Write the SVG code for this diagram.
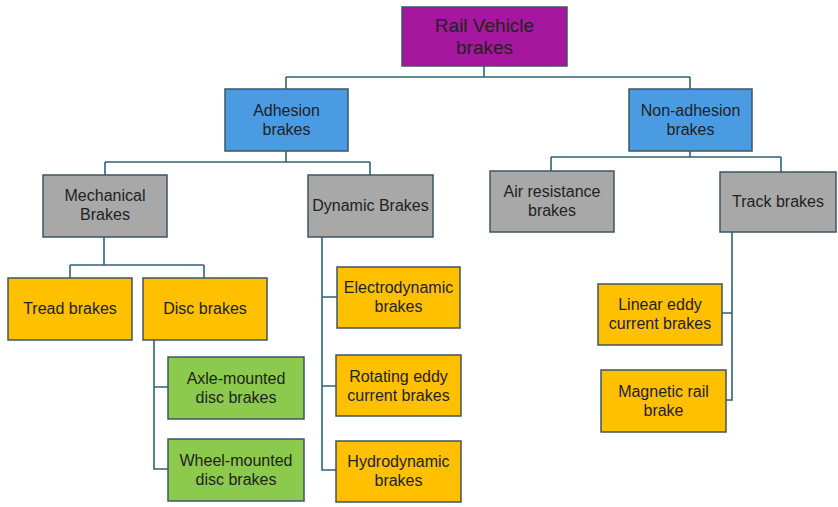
<svg xmlns="http://www.w3.org/2000/svg" width="838" height="507" viewBox="0 0 838 507">
<style>
rect.n{stroke:#3d5566;stroke-width:1.5}
.p{fill:#a5179f}
.b{fill:#4a9be2}
.g{fill:#a8a8a8}
.o{fill:#ffc000}
.gr{fill:#8bca4c}
text{font-family:"Liberation Sans",Arial,sans-serif;font-size:16px;fill:#222;text-anchor:middle;dominant-baseline:central}
.conn path{fill:none;stroke:#2e6478;stroke-width:1.6}
</style>
<rect width="838" height="507" fill="#fff"/>
<g class="conn">
<path d="M484,66V77M286,77H690M286,77V89M690,77V89"/>
<path d="M286,151V162M105,162H370M105,162V175M370,162V175"/>
<path d="M690,151V157M551,157H781M551,157V171M781,157V172"/>
<path d="M104,237V265M70,265H204M70,265V278M204,265V278"/>
<path d="M154,340V469H168M154,387H168"/>
<path d="M322,237V470H336M322,297H337M322,386H336"/>
<path d="M732,232V400H726M732,313H722"/>
</g>
<g id="root"><rect class="n p" x="402" y="7" width="165" height="59"/><text x="484.5" y="25" font-size="19" style="font-size:19px">Rail Vehicle</text><text x="484.5" y="47" style="font-size:19px">brakes</text></g>
<g id="adhesion"><rect class="n b" x="225" y="89" width="123" height="62"/><text x="286.5" y="110">Adhesion</text><text x="286.5" y="129">brakes</text></g>
<g id="nonadhesion"><rect class="n b" x="629" y="89" width="123" height="62"/><text x="690.5" y="110">Non-adhesion</text><text x="690.5" y="129">brakes</text></g>
<g id="mechanical"><rect class="n g" x="43" y="175" width="124" height="62"/><text x="105" y="195">Mechanical</text><text x="105" y="214">Brakes</text></g>
<g id="dynamic"><rect class="n g" x="308" y="175" width="125" height="62"/><text x="370.5" y="205">Dynamic Brakes</text></g>
<g id="air"><rect class="n g" x="490" y="171" width="124" height="61"/><text x="552" y="191">Air resistance</text><text x="552" y="210">brakes</text></g>
<g id="track"><rect class="n g" x="720" y="172" width="116" height="60"/><text x="778" y="201">Track brakes</text></g>
<g id="tread"><rect class="n o" x="8" y="278" width="124" height="62"/><text x="70" y="308">Tread brakes</text></g>
<g id="disc"><rect class="n o" x="143" y="278" width="124" height="62"/><text x="205" y="308">Disc brakes</text></g>
<g id="electro"><rect class="n o" x="337" y="267" width="123" height="61"/><text x="398.5" y="287">Electrodynamic</text><text x="398.5" y="306">brakes</text></g>
<g id="rotating"><rect class="n o" x="336" y="355" width="125" height="61"/><text x="398.5" y="376">Rotating eddy</text><text x="398.5" y="395">current brakes</text></g>
<g id="hydro"><rect class="n o" x="336" y="441" width="125" height="61"/><text x="398.5" y="461">Hydrodynamic</text><text x="398.5" y="480">brakes</text></g>
<g id="axle"><rect class="n gr" x="168" y="357" width="136" height="62"/><text x="236" y="378">Axle-mounted</text><text x="236" y="397">disc brakes</text></g>
<g id="wheel"><rect class="n gr" x="168" y="439" width="136" height="62"/><text x="236" y="460">Wheel-mounted</text><text x="236" y="479">disc brakes</text></g>
<g id="linear"><rect class="n o" x="598" y="284" width="124" height="61"/><text x="660" y="304">Linear eddy</text><text x="660" y="323">current brakes</text></g>
<g id="magnetic"><rect class="n o" x="601" y="370" width="125" height="62"/><text x="663.5" y="391">Magnetic rail</text><text x="663.5" y="410">brake</text></g>
</svg>
